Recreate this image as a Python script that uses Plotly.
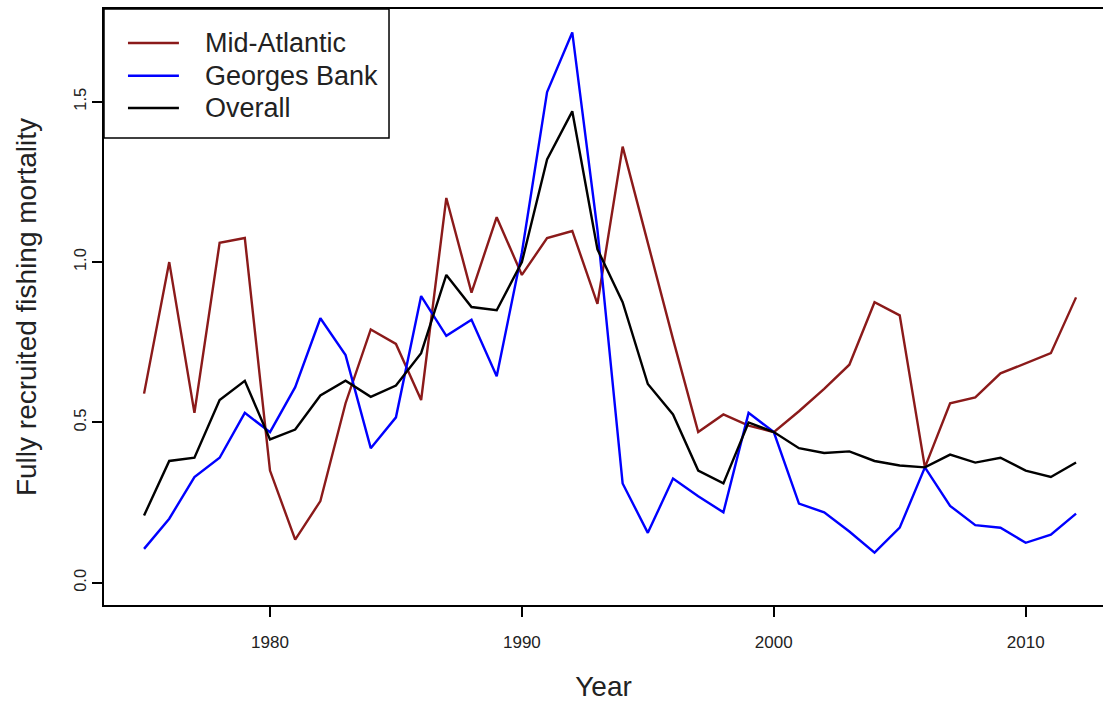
import plotly.graph_objects as go

# Fully recruited fishing mortality by region, 1975-2012
years = list(range(1975, 2013))

mid_atlantic = [
    0.59, 1.00, 0.53, 1.06, 1.075, 0.35, 0.135, 0.255, 0.56, 0.79,
    0.745, 0.57, 1.20, 0.905, 1.14, 0.96, 1.075, 1.097, 0.87, 1.36,
    1.06, 0.76, 0.47, 0.525, 0.49, 0.47, 0.535, 0.605, 0.68, 0.875,
    0.834, 0.36, 0.56, 0.578, 0.653, 0.685, 0.716, 0.89,
]

georges_bank = [
    0.106, 0.20, 0.33, 0.39, 0.53, 0.47, 0.61, 0.825, 0.71, 0.42,
    0.516, 0.894, 0.77, 0.82, 0.644, 1.03, 1.53, 1.716, 1.10, 0.31,
    0.156, 0.325, 0.27, 0.22, 0.53, 0.47, 0.247, 0.22, 0.16, 0.094,
    0.172, 0.36, 0.24, 0.18, 0.172, 0.125, 0.15, 0.216,
]

overall = [
    0.21, 0.38, 0.39, 0.57, 0.63, 0.447, 0.478, 0.584, 0.63, 0.58,
    0.615, 0.716, 0.96, 0.86, 0.85, 1.00, 1.32, 1.47, 1.04, 0.875,
    0.62, 0.525, 0.35, 0.31, 0.50, 0.47, 0.42, 0.405, 0.41, 0.38,
    0.366, 0.36, 0.40, 0.375, 0.39, 0.35, 0.33, 0.375,
]

series = [
    ("Mid-Atlantic", mid_atlantic, "#8b1a1a"),
    ("Georges Bank", georges_bank, "#0000ff"),
    ("Overall", overall, "#000000"),
]

x_ticks = [1980, 1990, 2000, 2010]
y_ticks = [0.0, 0.5, 1.0, 1.5]
y_tick_text = ["0.0", "0.5", "1.0", "1.5"]

FONT = "Liberation Sans, Arial, Helvetica, sans-serif"
TEXT = "#222222"

fig = go.Figure()
for name, values, color in series:
    fig.add_trace(go.Scatter(
        x=years, y=values, mode="lines", name=name,
        line=dict(color=color, width=2.4),
    ))

# Boxed legend in the top-left corner of the panel (paper coordinates)
box_right, box_bottom = 0.2853, 0.7836
key_x0, key_x1, label_x = 0.024, 0.075, 0.099
row_y = [0.943, 0.888, 0.834]

shapes = [dict(type="rect", xref="paper", yref="paper",
               x0=0, x1=box_right, y0=box_bottom, y1=1,
               line=dict(color="black", width=1.5), fillcolor="white",
               layer="above")]
annotations = []
for (name, _, color), ry in zip(series, row_y):
    shapes.append(dict(type="line", xref="paper", yref="paper",
                       x0=key_x0, x1=key_x1, y0=ry, y1=ry,
                       line=dict(color=color, width=2.4), layer="above"))
    annotations.append(dict(xref="paper", yref="paper", x=label_x, y=ry,
                            text=name, showarrow=False,
                            xanchor="left", yanchor="middle",
                            font=dict(size=27, color=TEXT)))

fig.update_layout(
    width=1103, height=702,
    margin=dict(l=104, r=0, t=9, b=97),
    paper_bgcolor="white", plot_bgcolor="white",
    font=dict(family=FONT, color=TEXT),
    showlegend=False,
    shapes=shapes,
    annotations=annotations,
    xaxis=dict(
        range=[1973.41, 2013.07],
        tickvals=x_ticks,
        ticks="outside", ticklen=10, tickwidth=1.5, tickcolor="black",
        showline=True, linecolor="black", linewidth=1.5, mirror=True,
        showgrid=False, zeroline=False,
        tickfont=dict(size=17, color=TEXT),
        ticklabelstandoff=11,
        title=dict(text="Year", font=dict(size=28, color=TEXT), standoff=31),
    ),
    yaxis=dict(
        range=[-0.069, 1.789],
        tickvals=y_ticks, ticktext=y_tick_text,
        tickangle=-90,
        ticks="outside", ticklen=10, tickwidth=1.5, tickcolor="black",
        showline=True, linecolor="black", linewidth=1.5, mirror=False,
        showgrid=False, zeroline=False,
        tickfont=dict(size=16.5, color=TEXT),
        title=dict(text="Fully recruited fishing mortality",
                   font=dict(size=28, color=TEXT), standoff=26),
    ),
)

fig.write_html("out.html")
